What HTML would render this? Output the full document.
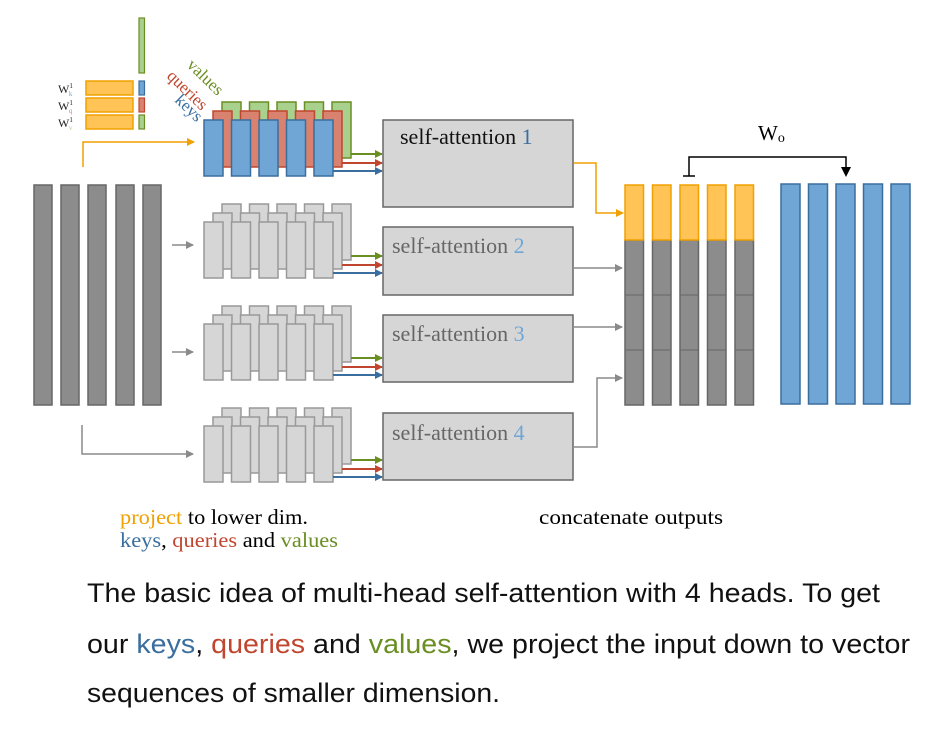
<!DOCTYPE html>
<html><head><meta charset="utf-8"><style>
html,body{margin:0;padding:0;background:#fff;}
svg{display:block;}
.serif{font-family:"Liberation Serif",serif;}
.sans{font-family:"Liberation Sans",sans-serif;}
</style></head><body>
<svg width="945" height="740" viewBox="0 0 945 740" xmlns="http://www.w3.org/2000/svg">
<defs>
<marker id="ag" markerWidth="8" markerHeight="8" refX="7" refY="4" orient="auto" markerUnits="userSpaceOnUse"><path d="M0,0 L8,4 L0,8 z" fill="#6b8e23"/></marker>
<marker id="ar" markerWidth="8" markerHeight="8" refX="7" refY="4" orient="auto" markerUnits="userSpaceOnUse"><path d="M0,0 L8,4 L0,8 z" fill="#c0462f"/></marker>
<marker id="ab" markerWidth="8" markerHeight="8" refX="7" refY="4" orient="auto" markerUnits="userSpaceOnUse"><path d="M0,0 L8,4 L0,8 z" fill="#3a6e9e"/></marker>
<marker id="agr" markerWidth="8" markerHeight="8" refX="7" refY="4" orient="auto" markerUnits="userSpaceOnUse"><path d="M0,0 L8,4 L0,8 z" fill="#8a8a8a"/></marker>
<marker id="ao" markerWidth="8" markerHeight="8" refX="7" refY="4" orient="auto" markerUnits="userSpaceOnUse"><path d="M0,0 L8,4 L0,8 z" fill="#f0a000"/></marker>
<g id="gs" fill="#d6d6d6" stroke="#999" stroke-width="1.5">
<rect x="222" y="0" width="19" height="56"/><rect x="249.5" y="0" width="19" height="56"/><rect x="277" y="0" width="19" height="56"/><rect x="304.5" y="0" width="19" height="56"/><rect x="332" y="0" width="19" height="56"/>
<rect x="213" y="9" width="19" height="56"/><rect x="240.5" y="9" width="19" height="56"/><rect x="268" y="9" width="19" height="56"/><rect x="295.5" y="9" width="19" height="56"/><rect x="323" y="9" width="19" height="56"/>
<rect x="204" y="18" width="19" height="56"/><rect x="231.5" y="18" width="19" height="56"/><rect x="259" y="18" width="19" height="56"/><rect x="286.5" y="18" width="19" height="56"/><rect x="314" y="18" width="19" height="56"/>
</g>
<g id="arr" stroke-width="2" fill="none">
<line x1="351" y1="52" x2="382" y2="52" stroke="#6b8e23" marker-end="url(#ag)"/>
<line x1="342" y1="61" x2="382" y2="61" stroke="#c0462f" marker-end="url(#ar)"/>
<line x1="333" y1="69" x2="382" y2="69" stroke="#3a6e9e" marker-end="url(#ab)"/>
</g>
</defs>

<rect x="139" y="18" width="5.5" height="55" fill="#a9d18e" stroke="#6b8e23" stroke-width="1.2"/>
<g fill="#ffc455" stroke="#f0a000" stroke-width="1.5">
<rect x="86" y="81" width="47" height="14"/><rect x="86" y="98" width="47" height="14"/><rect x="86" y="115" width="47" height="14"/>
</g>
<rect x="139" y="81" width="5.5" height="14" fill="#6fa6d6" stroke="#3a6e9e" stroke-width="1.2"/>
<rect x="139" y="98" width="5.5" height="14" fill="#d9826f" stroke="#c0462f" stroke-width="1.2"/>
<rect x="139" y="115" width="5.5" height="14" fill="#a9d18e" stroke="#6b8e23" stroke-width="1.2"/>
<g class="serif" font-size="12" fill="#222">
<text x="58" y="93">W<tspan font-size="7" dy="-5">1</tspan><tspan font-size="7" dx="-4" dy="8" fill="#6fa6d6">k</tspan></text>
<text x="58" y="110">W<tspan font-size="7" dy="-5">1</tspan><tspan font-size="7" dx="-4" dy="8" fill="#d9826f">q</tspan></text>
<text x="58" y="127">W<tspan font-size="7" dy="-5">1</tspan><tspan font-size="7" dx="-4" dy="8" fill="#a9d18e">v</tspan></text>
</g>
<g class="serif" font-size="17">
<text transform="translate(186,66) rotate(44)" fill="#6b8e23">values</text>
<text transform="translate(166,77) rotate(44)" fill="#c0462f">queries</text>
<text transform="translate(174,101) rotate(44)" fill="#3a6e9e">keys</text>
</g>
<polyline points="83,167 83,142 194,142" fill="none" stroke="#f0a000" stroke-width="1.5" marker-end="url(#ao)"/>

<g transform="translate(0,102)">
<g fill="#a9d18e" stroke="#6b8e23" stroke-width="1.5">
<rect x="222" y="0" width="19" height="56"/><rect x="249.5" y="0" width="19" height="56"/><rect x="277" y="0" width="19" height="56"/><rect x="304.5" y="0" width="19" height="56"/><rect x="332" y="0" width="19" height="56"/></g>
<g fill="#d9826f" stroke="#c0462f" stroke-width="1.5">
<rect x="213" y="9" width="19" height="56"/><rect x="240.5" y="9" width="19" height="56"/><rect x="268" y="9" width="19" height="56"/><rect x="295.5" y="9" width="19" height="56"/><rect x="323" y="9" width="19" height="56"/></g>
<g fill="#6fa6d6" stroke="#3a6e9e" stroke-width="1.5">
<rect x="204" y="18" width="19" height="56"/><rect x="231.5" y="18" width="19" height="56"/><rect x="259" y="18" width="19" height="56"/><rect x="286.5" y="18" width="19" height="56"/><rect x="314" y="18" width="19" height="56"/></g>
<use href="#arr"/>
</g>
<use href="#gs" y="204"/><use href="#arr" y="204"/>
<use href="#gs" y="306"/><use href="#arr" y="306"/>
<use href="#gs" y="408"/><use href="#arr" y="408"/>

<g fill="#8c8c8c" stroke="#666" stroke-width="1.5">
<rect x="34" y="185" width="18" height="220"/><rect x="61" y="185" width="18" height="220"/><rect x="88" y="185" width="18" height="220"/><rect x="116" y="185" width="18" height="220"/><rect x="143" y="185" width="18" height="220"/>
</g>
<g stroke="#8a8a8a" stroke-width="1.5" fill="none">
<line x1="172" y1="245" x2="193" y2="245" marker-end="url(#agr)"/>
<line x1="172" y1="352" x2="193" y2="352" marker-end="url(#agr)"/>
<polyline points="82,425 82,454 193,454" marker-end="url(#agr)"/>
</g>

<g fill="#d6d6d6" stroke="#666" stroke-width="1.5">
<rect x="383" y="120" width="190" height="87"/>
<rect x="383" y="227" width="190" height="68"/>
<rect x="383" y="315" width="190" height="67"/>
<rect x="383" y="413" width="190" height="67"/>
</g>
<g class="serif" font-size="22">
<text x="400" y="144" fill="#111">self-attention <tspan fill="#3a6e9e">1</tspan></text>
<text x="392" y="253" fill="#666">self-attention <tspan fill="#6fa6d6">2</tspan></text>
<text x="392" y="341" fill="#666">self-attention <tspan fill="#6fa6d6">3</tspan></text>
<text x="392" y="440" fill="#666">self-attention <tspan fill="#6fa6d6">4</tspan></text>
</g>
<polyline points="574,163 596,163 596,213 623,213" fill="none" stroke="#f0a000" stroke-width="1.5" marker-end="url(#ao)"/>
<g stroke="#8a8a8a" stroke-width="1.5" fill="none">
<line x1="574" y1="268" x2="622" y2="268" marker-end="url(#agr)"/>
<line x1="574" y1="327" x2="622" y2="327" marker-end="url(#agr)"/>
<polyline points="574,447 597,447 597,378 622,378" marker-end="url(#agr)"/>
</g>

<g stroke-width="1.5">
<g fill="#8c8c8c" stroke="#666">
<rect x="625" y="240" width="18.5" height="165"/><rect x="652.5" y="240" width="18.5" height="165"/><rect x="680" y="240" width="18.5" height="165"/><rect x="707.5" y="240" width="18.5" height="165"/><rect x="735" y="240" width="18.5" height="165"/>
</g>
<g stroke="#666" stroke-width="1">
<line x1="625" y1="295" x2="643.5" y2="295"/><line x1="652.5" y1="295" x2="671" y2="295"/><line x1="680" y1="295" x2="698.5" y2="295"/><line x1="707.5" y1="295" x2="726" y2="295"/><line x1="735" y1="295" x2="753.5" y2="295"/>
<line x1="625" y1="350" x2="643.5" y2="350"/><line x1="652.5" y1="350" x2="671" y2="350"/><line x1="680" y1="350" x2="698.5" y2="350"/><line x1="707.5" y1="350" x2="726" y2="350"/><line x1="735" y1="350" x2="753.5" y2="350"/>
</g>
<g fill="#ffc455" stroke="#f0a000">
<rect x="625" y="185" width="18.5" height="55"/><rect x="652.5" y="185" width="18.5" height="55"/><rect x="680" y="185" width="18.5" height="55"/><rect x="707.5" y="185" width="18.5" height="55"/><rect x="735" y="185" width="18.5" height="55"/>
</g>
<g fill="#6fa6d6" stroke="#3a6e9e">
<rect x="781" y="184" width="19" height="220"/><rect x="808.5" y="184" width="19" height="220"/><rect x="836" y="184" width="19" height="220"/><rect x="863.5" y="184" width="19" height="220"/><rect x="891" y="184" width="19" height="220"/>
</g>
</g>
<polyline points="689,176 689,157 846,157 846,167" fill="none" stroke="#000" stroke-width="1.5"/>
<line x1="683" y1="176" x2="695" y2="176" stroke="#000" stroke-width="1.5"/>
<path d="M841,167 L851,167 L846,177 z" fill="#000"/>
<text class="serif" x="758" y="140" font-size="21" fill="#000">W<tspan font-size="14" dy="2">o</tspan></text>

<g class="serif" font-size="21">
<text x="120" y="524" textLength="188" lengthAdjust="spacingAndGlyphs"><tspan fill="#f0a000">project</tspan> to lower dim.</text>
<text x="120" y="547" textLength="218" lengthAdjust="spacingAndGlyphs"><tspan fill="#3a6e9e">keys</tspan>, <tspan fill="#c0462f">queries</tspan> and <tspan fill="#6b8e23">values</tspan></text>
<text x="539" y="524" textLength="184" lengthAdjust="spacingAndGlyphs">concatenate outputs</text>
</g>
<g class="sans" font-size="27" fill="#111">
<text x="87" y="602" textLength="793" lengthAdjust="spacingAndGlyphs">The basic idea of multi-head self-attention with 4 heads. To get</text>
<text x="87" y="653" textLength="823" lengthAdjust="spacingAndGlyphs">our <tspan fill="#3a6e9e">keys</tspan>, <tspan fill="#c0462f">queries</tspan> and <tspan fill="#6b8e23">values</tspan>, we project the input down to vector</text>
<text x="87" y="702" textLength="413" lengthAdjust="spacingAndGlyphs">sequences of smaller dimension.</text>
</g>
</svg>
</body></html>
